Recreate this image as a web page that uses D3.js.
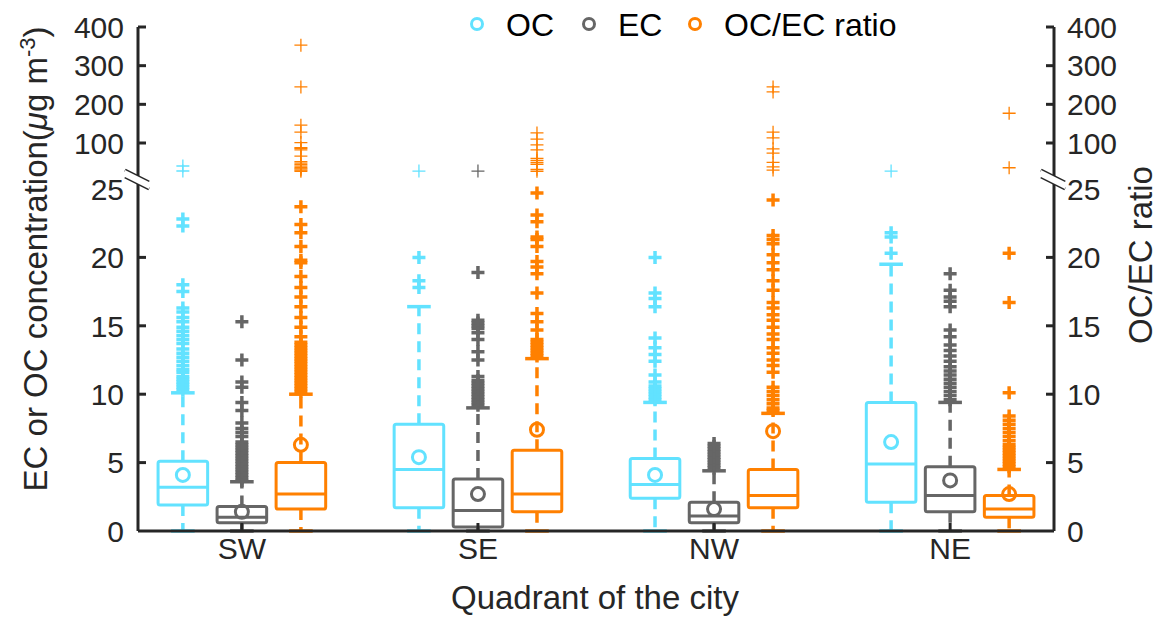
<!DOCTYPE html>
<html lang="en">
<head>
<meta charset="UTF-8">
<title>OC and EC by quadrant</title>
<script src="https://d3js.org/d3.v7.min.js"></script>
<style>
    body { margin: 0; background: #fff; }
    svg text { font-family: 'Liberation Sans', Arial, sans-serif; fill: #262626; }
</style>
</head>
<body>
<div id="chart"></div>
<script>
// ---- data ----
const quadrants = ["SW", "SE", "NW", "NE"];
const seriesNames = ["OC", "EC", "OC/EC ratio"];
const seriesColors = ["#62E2FF", "#666666", "#FF8000"];

const lowerTicks = [0, 5, 10, 15, 20, 25];
const upperTicks = [100, 200, 300, 400];

const ocQ1 = [1.9, 1.7, 2.4, 2.1];
const ocMedian = [3.2, 4.5, 3.4, 4.9];
const ocQ3 = [5.1, 7.8, 5.3, 9.4];
const ocLow = [0, 0, 0, 0];
const ocHigh = [10.1, 16.4, 9.4, 19.5];
const ocMean = [4.1, 5.4, 4.1, 6.5];
const ocOutliers = [
    [10.3, 10.5, 10.7, 10.9, 11.1, 11.3, 11.6, 11.8, 12.1, 12.4, 12.7, 13.0, 13.3, 13.7, 14.0, 14.3, 14.6, 14.9, 15.3, 15.6, 16.0, 16.3, 17.5, 18.0, 22.3, 22.8, 27.6, 40.5],
    [17.8, 18.3, 20.0, 27.5],
    [9.6, 9.8, 10.0, 10.2, 10.4, 10.6, 10.9, 11.4, 12.4, 12.9, 13.4, 14.1, 16.4, 17.0, 17.4, 20.0],
    [20.3, 21.5, 21.8, 27.5]
];

const ecQ1 = [0.6, 0.3, 0.6, 1.4];
const ecMedian = [1.0, 1.5, 1.1, 2.6];
const ecQ3 = [1.8, 3.8, 2.1, 4.7];
const ecLow = [0, 0, 0, 0];
const ecHigh = [3.6, 9.0, 4.4, 9.4];
const ecMean = [1.4, 2.7, 1.6, 3.7];
const ecOutliers = [
    [3.7, 3.9, 4.1, 4.3, 4.5, 4.7, 4.9, 5.1, 5.3, 5.5, 5.7, 5.9, 6.1, 6.3, 6.5, 6.9, 7.2, 7.5, 7.9, 8.8, 9.4, 10.5, 10.9, 12.5, 15.3],
    [9.2, 9.4, 9.6, 9.8, 10.0, 10.2, 10.4, 10.6, 10.8, 11.0, 11.3, 12.5, 13.1, 14.0, 14.5, 14.8, 15.0, 15.2, 15.4, 18.9, 27.5],
    [4.6, 4.8, 5.0, 5.2, 5.4, 5.6, 5.8, 6.0, 6.2, 6.4],
    [9.6, 9.9, 10.2, 10.5, 10.8, 11.1, 11.4, 11.7, 12.0, 12.4, 12.8, 13.2, 13.6, 14.2, 14.7, 16.4, 16.8, 17.1, 17.6, 18.8]
];

const ratioQ1 = [1.6, 1.4, 1.7, 1.0];
const ratioMedian = [2.7, 2.7, 2.6, 1.6];
const ratioQ3 = [5.0, 5.9, 4.5, 2.6];
const ratioLow = [0, 0, 0, 0];
const ratioHigh = [10.0, 12.6, 8.6, 4.5];
const ratioMean = [6.3, 7.4, 7.3, 2.7];
const ratioOutliers = [
    [10.2, 10.4, 10.6, 10.8, 11.0, 11.2, 11.4, 11.6, 11.8, 12.0, 12.2, 12.4, 12.6, 12.8, 13.0, 13.2, 13.4, 13.6, 13.8, 14.2, 14.9, 15.6, 16.4, 17.1, 17.8, 18.6, 19.6, 19.8, 20.8, 21.8, 22.4, 23.7,
     27, 30, 33, 36, 40, 44, 48, 52, 66, 82, 86, 88, 101, 128, 146, 245, 353],
    [12.8, 13.0, 13.2, 13.4, 13.6, 13.8, 14.0, 14.7, 15.3, 15.9, 17.4, 18.8, 19.3, 19.7, 20.8, 21.3, 21.5, 22.6, 23.1, 24.7,
     27, 32, 45, 50, 55, 60, 82, 95, 110, 126],
    [8.8, 9.0, 9.3, 9.6, 9.9, 10.2, 10.5, 11.6, 12.1, 12.5, 13.0, 13.4, 14.0, 14.4, 14.9, 15.4, 15.8, 16.3, 16.7,
     17.6, 18.3, 19.1, 19.6, 20.2, 21.0, 21.3, 21.6, 24.2,
     30, 38, 50, 74, 85, 113, 128, 232, 245],
    [4.7, 4.9, 5.1, 5.3, 5.5, 5.7, 5.9, 6.1, 6.3, 6.6, 6.9, 7.2, 7.5, 7.8, 8.1, 8.4, 10.1, 16.7, 20.3, 36, 177]
];

const series = [
    {q1: ocQ1, median: ocMedian, q3: ocQ3, low: ocLow, high: ocHigh, mean: ocMean, outliers: ocOutliers},
    {q1: ecQ1, median: ecMedian, q3: ecQ3, low: ecLow, high: ecHigh, mean: ecMean, outliers: ecOutliers},
    {q1: ratioQ1, median: ratioMedian, q3: ratioQ3, low: ratioLow, high: ratioHigh, mean: ratioMean, outliers: ratioOutliers}
].map((s, i) => Object.assign(s, {name: seriesNames[i], color: seriesColors[i]}));

// ---- layout ----
const width = 1161, height = 618;
const axisColor = "#262626";
const offsets = [-0.25, 0, 0.25];
const boxW = 0.21, capW = 0.1;

const svg = d3.select("#chart").append("svg")
    .attr("width", width)
    .attr("height", height);

const x = d3.scaleLinear().domain([0.56, 4.44]).range([138, 1054]);
// broken y axis: 0-25 below the break, 25-400 above it
const yLow = d3.scaleLinear().domain([0, 25]).range([531, 189]);
const yHigh = d3.scaleLinear().domain([25, 400]).range([172, 27]);
const y = v => v <= 25 ? yLow(v) : yHigh(v);

const plot = svg.append("g");

series.forEach((s, si) => {
    quadrants.forEach((q, qi) => {
        const cx = x(qi + 1 + offsets[si]);
        const half = (x(boxW) - x(0)) / 2;
        const capHalf = (x(capW) - x(0)) / 2;
        const g = plot.append("g").attr("stroke", s.color).attr("fill", "none");

        // whiskers
        g.append("line").attr("x1", cx).attr("x2", cx)
            .attr("y1", y(s.q3[qi])).attr("y2", y(s.high[qi]))
            .attr("stroke-width", 3.5).attr("stroke-dasharray", "11,7");
        g.append("line").attr("x1", cx).attr("x2", cx)
            .attr("y1", y(s.q1[qi])).attr("y2", y(s.low[qi]))
            .attr("stroke-width", 3.5).attr("stroke-dasharray", "11,7");
        [s.high[qi], s.low[qi]].forEach(v => {
            g.append("line").attr("x1", cx - capHalf).attr("x2", cx + capHalf)
                .attr("y1", y(v)).attr("y2", y(v)).attr("stroke-width", 3.5);
        });

        // box + median
        g.append("rect")
            .attr("x", cx - half).attr("width", 2 * half)
            .attr("y", y(s.q3[qi])).attr("height", y(s.q1[qi]) - y(s.q3[qi]))
            .attr("rx", 2).attr("stroke-width", 3);
        g.append("line").attr("x1", cx - half).attr("x2", cx + half)
            .attr("y1", y(s.median[qi])).attr("y2", y(s.median[qi]))
            .attr("stroke-width", 3);

        // mean
        g.append("circle").attr("cx", cx).attr("cy", y(s.mean[qi]))
            .attr("r", 6.5).attr("stroke-width", 3);

        // outliers
        g.selectAll(".out")
            .data(s.outliers[qi])
            .enter()
            .append("path")
            .attr("class", "out")
            .attr("transform", d => `translate(${cx},${y(d)})`)
            .attr("d", "M-6.5,0H6.5M0,-6.5V6.5")
            .attr("stroke-width", d => d > 25 ? 1.3 : 3.5);
    });
});

// ---- axes ----
const axes = svg.append("g").attr("stroke", axisColor).attr("stroke-width", 3);
const x0 = x.range()[0], x1 = x.range()[1], yBase = yLow(0), yTop = yHigh(400);

axes.append("line").attr("x1", x0).attr("x2", x1).attr("y1", yBase).attr("y2", yBase);
[x0, x1].forEach((ax, i) => {
    const dir = i === 0 ? 1 : -1;
    axes.append("line").attr("x1", ax).attr("x2", ax).attr("y1", yTop).attr("y2", yBase);
    lowerTicks.filter(t => t > 0 && t < 25).forEach(t => {
        axes.append("line").attr("x1", ax).attr("x2", ax + dir * 8)
            .attr("y1", yLow(t)).attr("y2", yLow(t));
    });
    upperTicks.forEach(t => {
        axes.append("line").attr("x1", ax).attr("x2", ax + dir * 8)
            .attr("y1", yHigh(t)).attr("y2", yHigh(t));
    });
    // break marks
    const bx0 = ax - 13, bx1 = ax + 11;
    svg.append("path")
        .attr("d", `M${bx0},170L${bx1},182L${bx1},189L${bx0},177Z`)
        .attr("fill", "#fff").attr("stroke", "none");
    axes.append("line").attr("x1", bx0).attr("x2", bx1).attr("y1", 170).attr("y2", 182);
    axes.append("line").attr("x1", bx0).attr("x2", bx1).attr("y1", 177).attr("y2", 189);
});
quadrants.forEach((q, qi) => {
    axes.append("line").attr("x1", x(qi + 1)).attr("x2", x(qi + 1))
        .attr("y1", yBase).attr("y2", yBase - 8);
});

// tick labels
const labels = svg.append("g").style("font-size", "30px");
[[x0 - 14, "end"], [x1 + 13, "start"]].forEach(([lx, anchor]) => {
    lowerTicks.forEach(t => {
        labels.append("text").attr("x", lx).attr("y", yLow(t)).attr("dy", "0.36em")
            .attr("text-anchor", anchor).text(t);
    });
    upperTicks.forEach(t => {
        labels.append("text").attr("x", lx).attr("y", yHigh(t)).attr("dy", "0.36em")
            .attr("text-anchor", anchor).text(t);
    });
});
quadrants.forEach((q, qi) => {
    labels.append("text").attr("x", x(qi + 1)).attr("y", 559)
        .attr("text-anchor", "middle").text(q);
});

// axis titles
svg.append("text")
    .attr("x", (x0 + x1) / 2 - 1).attr("y", 609)
    .attr("text-anchor", "middle").style("font-size", "33px")
    .text("Quadrant of the city");

const yTitle = svg.append("text")
    .attr("transform", "translate(47,259) rotate(-90)")
    .attr("text-anchor", "middle").style("font-size", "33px");
yTitle.append("tspan").text("EC or OC concentration(");
yTitle.append("tspan").style("font-style", "italic").text("\u03bc");
yTitle.append("tspan").text("g m");
yTitle.append("tspan").attr("dy", -12).style("font-size", "22px").text("-3");
yTitle.append("tspan").attr("dy", 12).text(")");

svg.append("text")
    .attr("transform", "translate(1152,255) rotate(-90)")
    .attr("text-anchor", "middle").style("font-size", "33px")
    .text("OC/EC ratio");

// legend
const legendX = [477, 589, 695];
const legend = svg.append("g");
series.forEach((s, i) => {
    legend.append("circle").attr("cx", legendX[i]).attr("cy", 24).attr("r", 5.5)
        .attr("fill", "none").attr("stroke", s.color).attr("stroke-width", 3);
    legend.append("text").attr("x", legendX[i] + 29).attr("y", 36)
        .style("font-size", "32px").style("fill", "#000").text(s.name);
});
</script>
</body>
</html>
